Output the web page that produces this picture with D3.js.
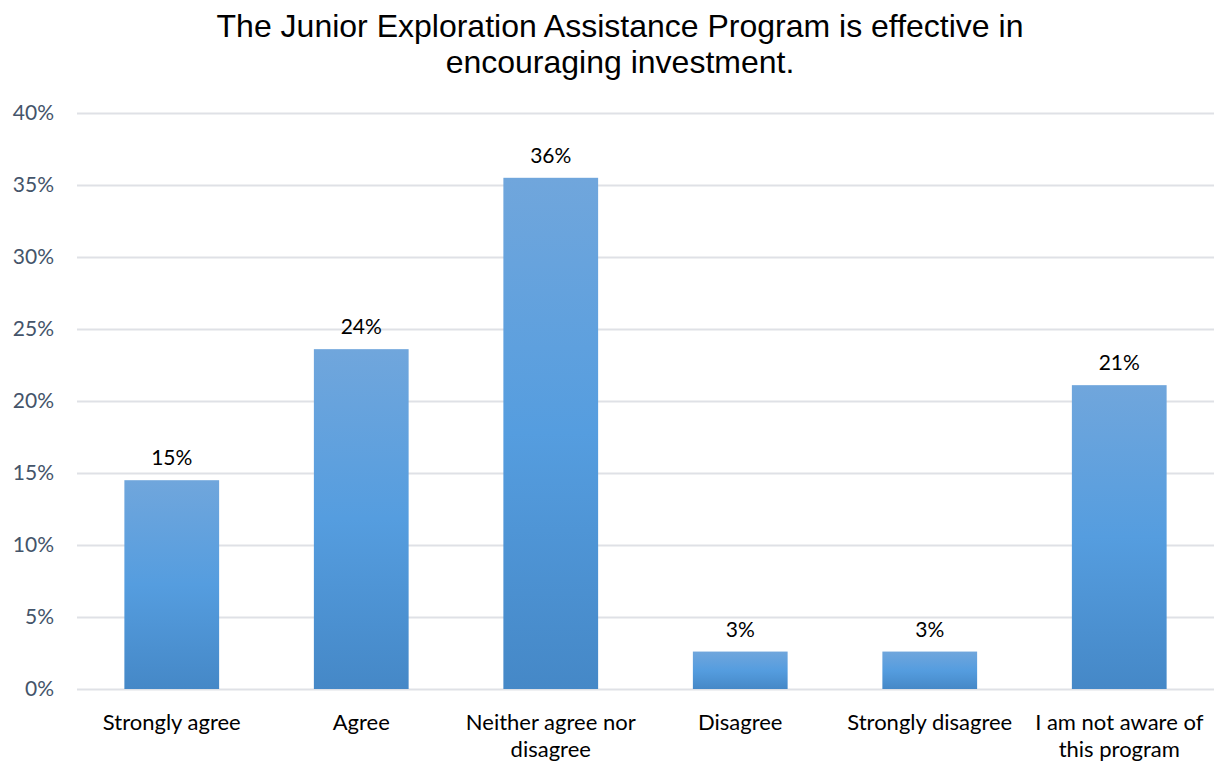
<!DOCTYPE html>
<html>
<head>
<meta charset="utf-8">
<script src="https://cdn.jsdelivr.net/npm/d3@7"></script>
<style>
  body { margin: 0; background: #fff; }
  svg { display: block; }
</style>
</head>
<body>
<div id="chart"></div>
<script>
const categories = ["Strongly agree", "Agree", "Neither agree nor disagree", "Disagree", "Strongly disagree", "I am not aware of this program"];
const categoryLines = [["Strongly agree"], ["Agree"], ["Neither agree nor", "disagree"], ["Disagree"], ["Strongly disagree"], ["I am not aware of", "this program"]];
const values = [14.5, 23.6, 35.5, 2.6, 2.6, 21.1];
const yTicks = [0, 5, 10, 15, 20, 25, 30, 35, 40];
const titleLines = ["The Junior Exploration Assistance Program is effective in", "encouraging investment."];

const width = 1214, height = 761;
const marginLeft = 77, marginRight = 0, marginTop = 113, marginBottom = 72;
const labelFont = "Lato, 'Open Sans', sans-serif";

const svg = d3.select("#chart").append("svg")
  .attr("width", width)
  .attr("height", height);

const defs = svg.append("defs");
const grad = defs.append("linearGradient")
  .attr("id", "barGrad")
  .attr("x1", 0).attr("y1", 0).attr("x2", 0).attr("y2", 1);
grad.append("stop").attr("offset", "0%").attr("stop-color", "#70a6dc");
grad.append("stop").attr("offset", "50%").attr("stop-color", "#559ddf");
grad.append("stop").attr("offset", "100%").attr("stop-color", "#4588c7");

const x = d3.scaleBand()
  .domain(categories)
  .range([marginLeft, width - marginRight])
  .paddingInner(0.5)
  .paddingOuter(0.25);

const y = d3.scaleLinear()
  .domain([0, 40])
  .range([height - marginBottom, marginTop]);

// gridlines + y labels
svg.append("g")
  .attr("transform", `translate(${marginLeft},0)`)
  .call(d3.axisLeft(y).tickValues(yTicks).tickFormat(d => d + "%").tickSize(0).tickPadding(23))
  .call(g => g.select(".domain").remove())
  .call(g => g.selectAll(".tick text")
    .attr("fill", "#44546a")
    .attr("font-family", labelFont)
    .attr("font-size", 21))
  .call(g => g.selectAll(".tick line").clone()
    .attr("x2", width - marginRight - marginLeft)
    .attr("stroke", "#dfe1e6")
    .attr("stroke-width", 2));

// bars
svg.append("g")
  .selectAll("rect")
  .data(values)
  .join("rect")
  .attr("x", (d, i) => x(categories[i]))
  .attr("y", d => y(d))
  .attr("width", x.bandwidth())
  .attr("height", d => y(0) - y(d))
  .attr("fill", "url(#barGrad)");

// value labels
svg.append("g")
  .selectAll("text")
  .data(values)
  .join("text")
  .attr("x", (d, i) => x(categories[i]) + x.bandwidth() / 2)
  .attr("y", d => y(d) - 15)
  .attr("text-anchor", "middle")
  .attr("font-family", labelFont)
  .attr("font-size", 21)
  .attr("fill", "#000")
  .text(d => Math.round(d) + "%");

// category labels
const cat = svg.append("g")
  .selectAll("text")
  .data(categoryLines)
  .join("text")
  .attr("text-anchor", "middle")
  .attr("font-family", labelFont)
  .attr("font-size", 22)
  .attr("fill", "#000");
cat.selectAll("tspan")
  .data((d, i) => d.map(t => ({t, cx: x(categories[i]) + x.bandwidth() / 2})))
  .join("tspan")
  .attr("x", d => d.cx)
  .attr("y", (d, j) => 730 + j * 27)
  .text(d => d.t);

// title
svg.append("text")
  .attr("text-anchor", "middle")
  .attr("font-family", "'Liberation Sans', Arial, sans-serif")
  .attr("font-size", 32)
  .attr("fill", "#000")
  .selectAll("tspan")
  .data(titleLines)
  .join("tspan")
  .attr("x", 620)
  .attr("y", (d, i) => 37 + i * 36)
  .text(d => d);
</script>
</body>
</html>
